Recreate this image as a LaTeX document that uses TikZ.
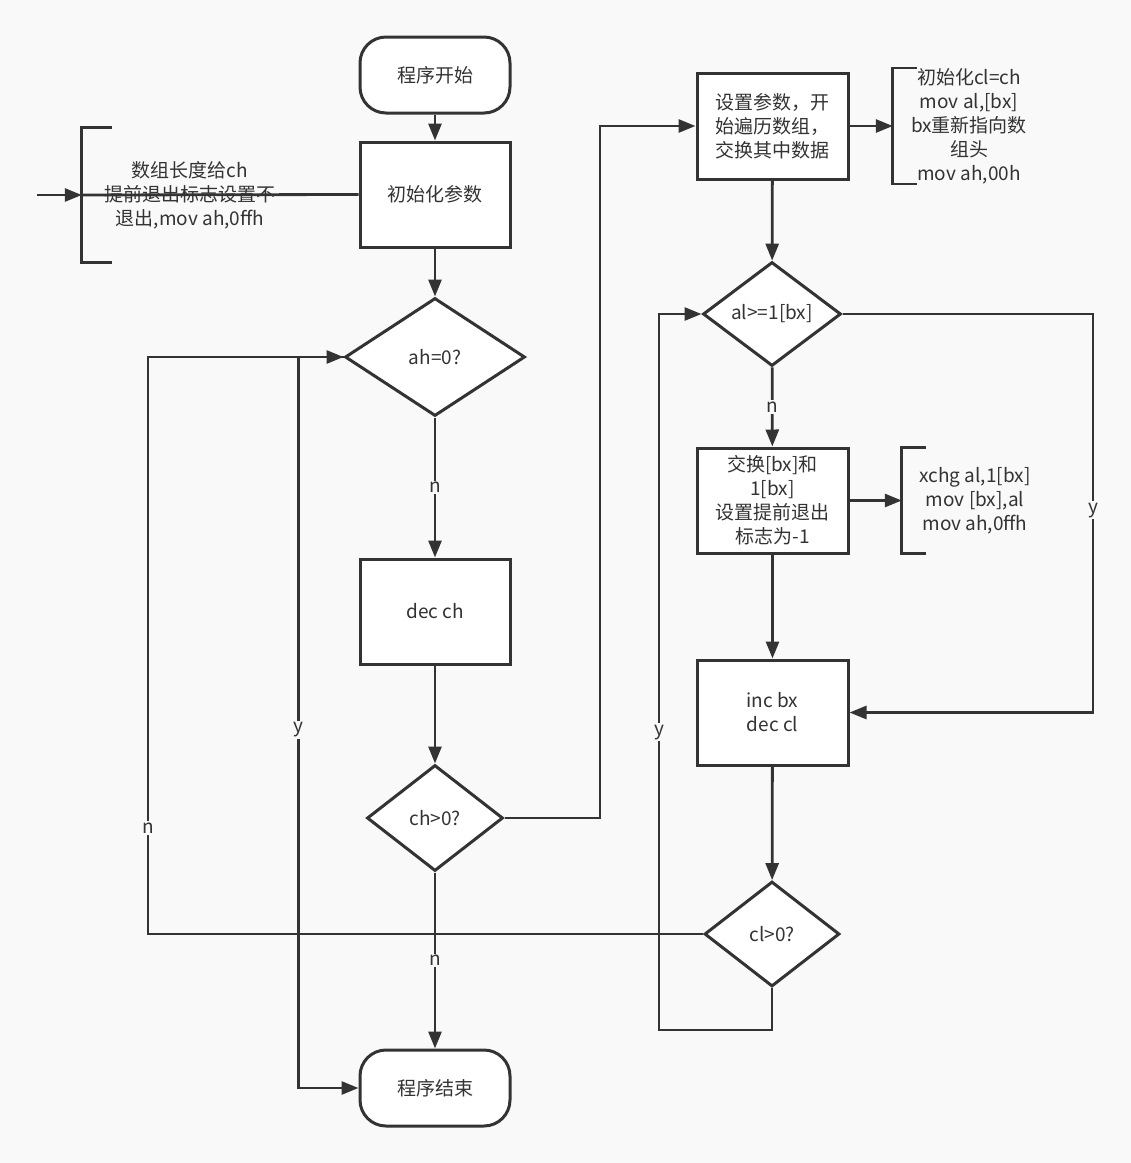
\documentclass[tikz,border=0pt]{standalone}
\usepackage{fontspec}
\newfontfamily\cjk{Noto Sans CJK SC}
\usetikzlibrary{arrows.meta,shapes.geometric}
\definecolor{bg}{HTML}{F9F9F9}
\definecolor{ink}{HTML}{333333}

\begin{document}
\begin{tikzpicture}[x=1pt,y=-1pt,
        every node/.style={font=\cjk\fontsize{19}{24}\selectfont, text=ink, align=center},
        box/.style={draw=ink, line width=3pt, fill=white, minimum width=150pt, minimum height=105pt, inner sep=0pt},
        term/.style={box, rounded corners=26pt, minimum height=76pt},
        decide/.style={draw=ink, line width=3pt, fill=white, diamond, aspect=1.5, inner sep=0pt},
        note/.style={inner sep=0pt},
        lbl/.style={fill=bg, inner sep=1.5pt},
        line/.style={draw=ink, line width=2.8pt},
        arr/.style={line, -{Triangle[length=17pt,width=13pt]}}]
        \fill[bg] (0,0) rectangle (1131,1163);
        \useasboundingbox (0,0) rectangle (1131,1163);

        \coordinate (inL) at (37,195);
        \coordinate (nL) at (148,934);
        \coordinate (jR) at (600,818);
        \coordinate (yR) at (1093,314);
        \coordinate (yB) at (659,1030);

        % left column
        \node[term] (start) at (435,75) {程序开始};
        \node[box] (init) at (435,194.5) {初始化参数};
        \node[decide, minimum width=180pt, minimum height=118pt] (ah) at (435,357) {ah=0?};
        \node[box] (dec) at (435,611.5) {dec ch};
        \node[decide, minimum width=136pt, minimum height=106pt] (chk) at (435,818) {ch>0?};
        \node[term] (end) at (435,1088) {程序结束};
        \node[note, minimum width=216pt, minimum height=134pt] (noteL) at (190,195) {数组长度给ch\\提前退出标志设置不\\退出,mov ah,0ffh};

        % right column
        \node[box, minimum width=151pt, minimum height=106pt] (setup) at (772.5,126) {设置参数，开\\始遍历数组，\\交换其中数据};
        \node[decide, minimum width=138pt, minimum height=104pt] (cmp) at (772,314) {al>=1[bx]};
        \node[box, minimum width=151pt] (swap) at (772.5,500.5) {交换[bx]和\\1[bx]\\设置提前退出\\标志为-1};
        \node[box, minimum width=151pt] (incbx) at (772.5,712.5) {inc bx\\dec cl};
        \node[decide, minimum width=135pt, minimum height=105pt] (cl) at (772,934) {cl>0?};
        \node[note, minimum width=152pt, minimum height=106pt] (noteTR) at (969,126) {初始化cl=ch\\mov al,[bx]\\bx重新指向数\\组头\\mov ah,00h};
        \node[note, minimum width=146pt, minimum height=105pt] (noteMR) at (975,500.5) {xchg al,1[bx]\\mov [bx],al\\mov ah,0ffh};

        \draw[line] ([xshift=30pt]noteL.north west) -- (noteL.north west) -- (noteL.south west) -- ([xshift=30pt]noteL.south west);
        \draw[line] ([xshift=24pt]noteTR.north west) -- (noteTR.north west) -- (noteTR.south west) -- ([xshift=24pt]noteTR.south west);
        \draw[line] ([xshift=24pt]noteMR.north west) -- (noteMR.north west) -- (noteMR.south west) -- ([xshift=24pt]noteMR.south west);

        \draw[arr] (start) -- (init);
        \draw[arr] (init) -- (ah);
        \draw[arr] (ah) -- node[lbl] {n} (dec);
        \draw[arr] (dec) -- (chk);
        \draw[arr] (chk) -- node[lbl] {n} (end);
        \draw[arr] (ah.west) -- ++(-45,0) |- node[lbl, pos=0.255] {y} (end.west);
        \draw[arr] (cl.west) -- (nL) |- node[lbl, pos=0.092] {n} (ah.west);
        \draw[arr] (chk.east) -- (jR) |- (setup.west);
        \draw[arr] (inL) -- (noteL.west);
        \draw[line] (noteL.west) -- (init.west);

        \draw[arr] (setup) -- (cmp);
        \draw[arr] (cmp) -- node[lbl] {n} (swap);
        \draw[arr] (cmp.east) -- (yR) |- node[lbl, pos=0.246] {y} (incbx.east);
        \draw[arr] (swap) -- (incbx);
        \draw[arr] (incbx) -- (cl);
        \draw[arr] (cl.south) |- (yB) |- node[lbl, pos=0.208] {y} (cmp.west);
        \draw[arr] (setup) -- (noteTR);
        \draw[arr] (swap) -- (noteMR);
    \end{tikzpicture}
\end{document}
